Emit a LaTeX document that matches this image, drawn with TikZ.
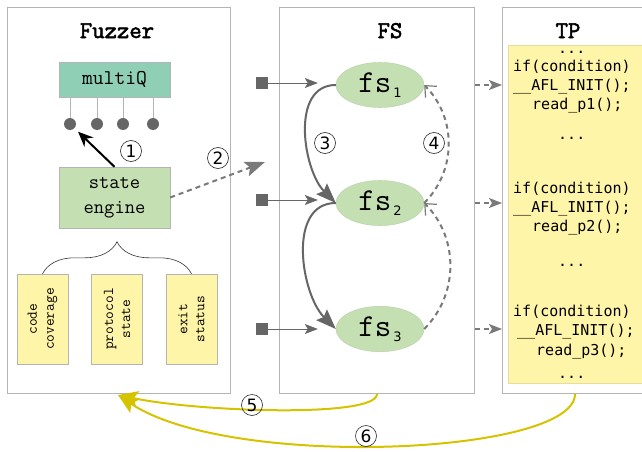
\documentclass[tikz,border=0pt]{standalone}
\usepackage{fontspec}
\newfontfamily\codefont{DejaVu Sans Mono}
\newfontfamily\circfont{DejaVu Sans}
\newfontfamily\titlefont{Latin Modern Mono}[FakeBold = 2.5]
\usetikzlibrary{arrows.meta,decorations.pathreplacing,shapes.geometric}

\definecolor{boxgray}{HTML}{B4B4B4}
\definecolor{qteal}{HTML}{8ECFB5}
\definecolor{stategreen}{HTML}{C4E0B2}
\definecolor{noteyellow}{HTML}{FFF5A8}
\definecolor{dotgray}{HTML}{666666}
\definecolor{dashgray}{HTML}{7A7A7A}
\definecolor{loopyellow}{HTML}{D6C300}

\newcommand{\fsname}[1]{fs\raisebox{-0.4ex}{\circfont\fontsize{13}{13}\selectfont\,#1}}

\tikzset{
	panel/.style = {draw = boxgray, fill = white, line width = 1pt, anchor = north west, inner sep = 0pt},
	title/.style = {anchor = base, inner sep = 0pt, font = \titlefont\fontsize{24}{24}\selectfont},
	qbox/.style = {draw = boxgray, fill = qteal, font = \ttfamily\fontsize{21}{21}\selectfont},
	engbox/.style = {draw = boxgray, fill = stategreen, align = center, font = \ttfamily\fontsize{20}{25}\selectfont},
	note/.style = {draw = boxgray, fill = noteyellow, rotate = 90, align = center, minimum width = 90, minimum height = 51, font = \ttfamily\fontsize{15}{17}\selectfont},
	qdot/.style = {circle, fill = dotgray, minimum size = 12, inner sep = 0pt},
	qline/.style = {draw = boxgray, line width = 0.8pt},
	num/.style = {circle, draw = black!85, line width = 0.6pt, minimum size = 21, inner sep = 0pt, font = \circfont\fontsize{17}{17}\selectfont},
	state/.style = {ellipse, fill = stategreen, draw = stategreen!80!gray, minimum width = 88, minimum height = 44, font = \ttfamily\fontsize{32}{32}\selectfont},
	insq/.style = {fill = dotgray, minimum size = 12, inner sep = 0pt},
	inarrow/.style = {draw = dotgray, line width = 0.7pt, -{Stealth[length = 13pt, width = 10pt, inset = 3pt]}, shorten > = 18pt},
	fire/.style = {line width = 2pt, -{Stealth[length = 15pt, width = 13pt]}, shorten > = 5pt},
	spawn/.style = {draw = dashgray, line width = 2pt, dash pattern = on 5pt off 4pt, -{Stealth[length = 20pt, width = 15pt, inset = 4pt]}},
	next/.style = {draw = dotgray, line width = 2pt, -{Stealth[length = 20pt, width = 15pt, inset = 3pt]}},
	back/.style = {draw = dashgray, line width = 2pt, dash pattern = on 5pt off 4pt, -{Straight Barb[length = 9pt, width = 16pt, line width = 1.2pt]}},
	launch/.style = {draw = dashgray, line width = 2pt, dash pattern = on 5pt off 4pt, -{Stealth[length = 13pt, width = 10pt, inset = 3pt]}},
	loop/.style = {draw = loopyellow, line width = 2pt, -{Stealth[length = 20pt, width = 16pt, inset = 4pt]}},
	code/.style = {anchor = base west, inner sep = 0pt, font = \codefont\fontsize{15}{15}\selectfont}
}

\begin{document}
\begin{tikzpicture}[x = 1pt, y = 1pt]
	\clip (0, 0) rectangle (642, -452);
	%Panels
	\node[panel, minimum width = 223, minimum height = 386] (fuzzer) at (7, -7) {};
		\node[title] (fuzzertitle) at (117, -38) {Fuzzer};
	\node[panel, minimum width = 195, minimum height = 386] (fsbox) at (279, -7) {};
		\node[title] (fstitle) at (390, -38) {FS};
	\node[panel, minimum width = 160, minimum height = 386] (tpbox) at (502, -7) {};
		\node[title] (tptitle) at (568, -38) {TP};
	%Fuzzer
	\node[qbox, minimum width = 111, minimum height = 35] (multiq) at (114.5, -79.5) {multiQ};
	\foreach \i/\x in {1/70, 2/97, 3/123, 4/153}{
		\node[qdot] (q\i) at (\x, -124) {};
		\draw[qline] (q\i) -- (q\i |- multiq.south);
	}
	\node[engbox, minimum width = 111, minimum height = 61] (engine) at (114.5, -197.5) {state\\engine};
	\draw[fire] (engine.north) -- (q1);
		\node[num] (n1) at (131, -151) {1};
	%Feedback
	\node[note] (cov) at (42.5, -319) {code\\coverage};
	\node[note] (proto) at (117, -319) {protocol\\state};
	\node[note] (exit) at (191.5, -319) {exit\\status};
	\draw[decorate, decoration = {brace, amplitude = 32pt}, draw = black!80, line width = 0.6pt] (cov.east) -- (exit.east);
	%Fuzzer to FS
	\coordinate (fsin) at (265, -162);
	\draw[spawn] (engine.east) -- (fsin);
		\node[num] (n2) at (218, -158) {2};
	%FS
	\node[state] (fs1) at (380, -85) {\fsname{1}};
	\node[state] (fs2) at (380, -203) {\fsname{2}};
	\node[state] (fs3) at (380, -329) {\fsname{3}};
	\foreach \i/\y in {1/83, 2/200, 3/329}{
		\node[insq] (in\i) at (262, -\y) {};
		\draw[inarrow] (in\i) -- (in\i -| fs\i.west);
	}
	\draw[next] (fs1.west) to[out = 180, in = 135] (fs2.west);
	\draw[next] (fs2.west) to[out = 180, in = 135] (fs3.west);
		\node[num] (n3) at (325, -143) {3};
	\draw[back] (fs2.east) to[out = 45, in = -45] (fs1.east);
	\draw[back] (fs3.east) to[out = 45, in = -45] (fs2.east);
		\node[num] (n4) at (434, -143) {4};
	\foreach \i in {1, 2, 3}
		\draw[launch] (fsbox.east |- fs\i) -- (tpbox.west |- fs\i);
	%TP
	\node[fill = noteyellow, draw = noteyellow!80!gray, anchor = north west, minimum width = 140, minimum height = 338] (tpcode) at (508, -45) {};
	\foreach \i/\x/\y/\t in {1/558/53/{...}, 2/513/71/{if(condition)}, 3/513/90/{\_\_AFL\_INIT();}, 4/532/109/{read\_p1();}, 5/558/139/{...},
			6/513/193/{if(condition)}, 7/513/212/{\_\_AFL\_INIT();}, 8/532/231/{read\_p2();}, 9/558/266/{...},
			10/513/316/{if(condition)}, 11/517/335/{\_\_AFL\_INIT();}, 12/536/355/{read\_p3();}, 13/558/378/{...}}
		\node[code] (line\i) at (\x, -\y) {\t};
	%Loops back
	\coordinate (fuzzin) at (118, -395);
	\draw[loop] (fsbox.south -| 377, 0) .. controls (377, -418) and (200, -412) .. (fuzzin);
		\node[num] (n5) at (252, -405) {5};
	\draw[loop] (tpbox.south -| 575, 0) .. controls (575, -455) and (230, -470) .. (fuzzin);
		\node[num] (n6) at (366, -436) {6};
\end{tikzpicture}
\end{document}
